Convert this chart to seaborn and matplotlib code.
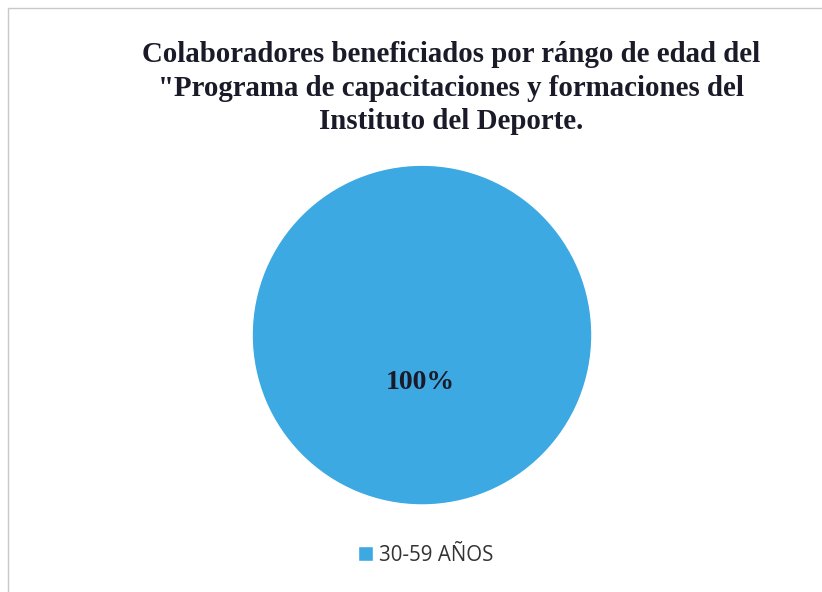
import matplotlib
matplotlib.use('agg')
import matplotlib.pyplot as plt
import seaborn as sns
from matplotlib.patches import Rectangle

categories = ['30-59 AÑOS']
values = [100]
title = 'Colaboradores beneficiados por rángo de edad del\n"Programa de capacitaciones y formaciones del\nInstituto del Deporte.'

sns.set_theme(style='white')
colors = ['#3da9e3']

fig = plt.figure(figsize=(8.22, 5.92), dpi=100)
fig.patch.set_facecolor('white')
fig.add_artist(Rectangle((0.010, -0.01), 1.0, 0.997, transform=fig.transFigure,
                         fill=False, edgecolor='#c8c8c8', linewidth=1.0))

fig.text(0.549, 0.851, title, ha='center', va='center', fontsize=20.8, fontweight='bold',
         family='Liberation Serif', color='#1a1a28', linespacing=1.3)

ax = fig.add_axes([0.3066, 0.147, 0.4136, 0.574])
wedges, texts, autotexts = ax.pie(values, colors=colors, autopct='%1.0f%%', startangle=90,
                                  textprops=dict(family='Liberation Serif', fontsize=20,
                                                 fontweight='bold', color='#1a1a28'),
                                  pctdistance=0.28)
ax.set_xlim(-1, 1)
ax.set_ylim(-1, 1)
ax.set_aspect('equal')
for t in autotexts:
    t.set_position((-0.01, -0.28))

fig.legend(wedges, categories, loc='center', bbox_to_anchor=(0.518, 0.062), frameon=False,
           prop=dict(family='Open Sans', size=14.8), handlelength=0.7, handleheight=0.7,
           handletextpad=0.3, labelcolor='#333333')

fig.savefig('out.png', dpi=100)
